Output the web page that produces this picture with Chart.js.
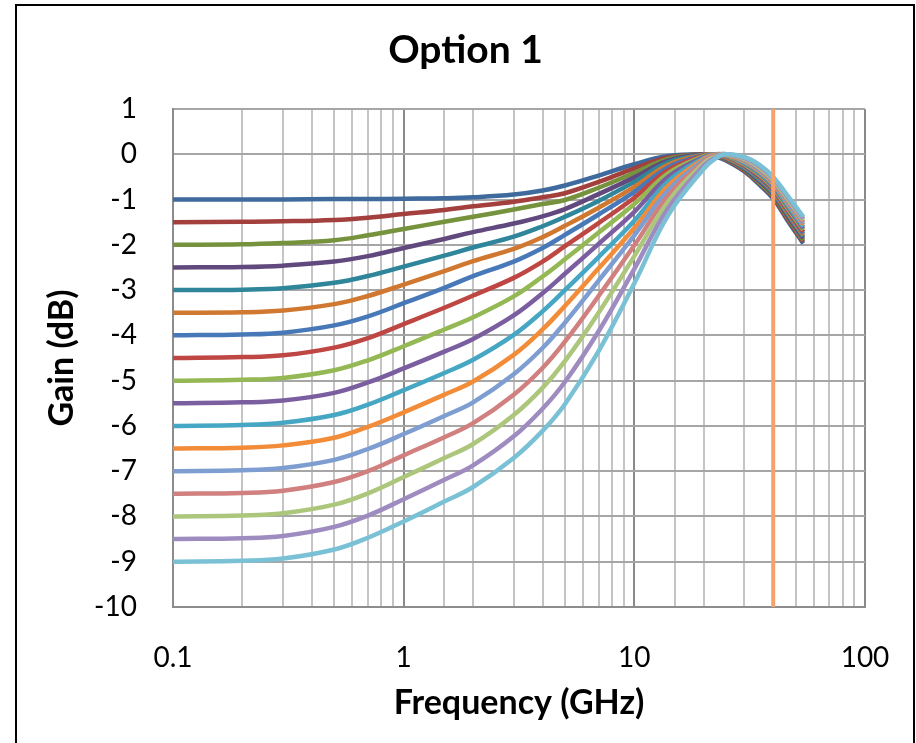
<!DOCTYPE html>
<html>
<head>
<meta charset="utf-8">
<title>Option 1</title>
<script src="https://cdn.jsdelivr.net/npm/chart.js@4.4.1/dist/chart.umd.min.js"></script>
<style>
  html, body { margin: 0; padding: 0; background: #fff; }
  #frame { position: absolute; left: 15px; top: 4px; width: 896px; height: 760px; border: 2px solid #000; }
  #chart { position: absolute; left: 0; top: 0; }
</style>
</head>
<body>
<div id="frame"></div>
<canvas id="chart" width="916" height="743"></canvas>
<script>
// sample frequencies (GHz)
const freqGHz = [0.1, 0.2, 0.3, 0.5, 0.7, 1, 1.5, 2, 3, 4, 5, 7, 10, 14, 20, 22.5, 25, 30, 35, 40, 46, 54];

// gain (dB) of each curve at the frequencies above, named by DC gain
const gainM1   = [-1, -1, -1, -0.99, -0.99, -0.98, -0.97, -0.95, -0.89, -0.8, -0.69, -0.47, -0.22, -0.04, 0, -0.05, -0.14, -0.38, -0.68, -0.98, -1.45, -1.97];
const gainM1p5 = [-1.5, -1.49, -1.48, -1.45, -1.4, -1.32, -1.23, -1.15, -1.05, -0.95, -0.86, -0.61, -0.31, -0.07, 0, -0.04, -0.12, -0.36, -0.65, -0.95, -1.42, -1.93];
const gainM2   = [-2, -1.99, -1.96, -1.9, -1.79, -1.65, -1.49, -1.38, -1.22, -1.1, -1.01, -0.74, -0.41, -0.1, 0, -0.03, -0.11, -0.34, -0.63, -0.92, -1.38, -1.9];
const gainM2p5 = [-2.5, -2.49, -2.46, -2.37, -2.25, -2.07, -1.87, -1.72, -1.53, -1.37, -1.21, -0.88, -0.51, -0.14, 0, -0.02, -0.1, -0.32, -0.6, -0.89, -1.35, -1.86];
const gainM3   = [-3, -2.99, -2.96, -2.84, -2.69, -2.48, -2.24, -2.06, -1.82, -1.59, -1.38, -1.03, -0.61, -0.18, -0.01, -0.01, -0.08, -0.3, -0.57, -0.86, -1.31, -1.82];
const gainM3p5 = [-3.5, -3.49, -3.45, -3.31, -3.13, -2.88, -2.58, -2.36, -2.09, -1.83, -1.58, -1.18, -0.72, -0.23, -0.01, -0.01, -0.07, -0.28, -0.54, -0.83, -1.28, -1.79];
const gainM4   = [-4, -3.98, -3.94, -3.78, -3.58, -3.29, -2.95, -2.69, -2.37, -2.07, -1.78, -1.33, -0.83, -0.29, -0.02, 0, -0.05, -0.26, -0.52, -0.8, -1.24, -1.75];
const gainM4p5 = [-4.5, -4.48, -4.44, -4.27, -4.06, -3.75, -3.39, -3.12, -2.73, -2.37, -2.03, -1.52, -0.96, -0.35, -0.03, 0, -0.04, -0.24, -0.49, -0.77, -1.21, -1.71];
const gainM5   = [-5, -4.98, -4.94, -4.77, -4.55, -4.24, -3.87, -3.6, -3.14, -2.7, -2.32, -1.73, -1.1, -0.42, -0.04, 0, -0.03, -0.22, -0.46, -0.74, -1.18, -1.67];
const gainM5p5 = [-5.5, -5.48, -5.44, -5.27, -5.04, -4.73, -4.36, -4.08, -3.56, -3.07, -2.64, -1.98, -1.27, -0.5, -0.06, 0, -0.02, -0.2, -0.43, -0.71, -1.14, -1.64];
const gainM6   = [-6, -5.98, -5.93, -5.76, -5.53, -5.21, -4.83, -4.54, -3.99, -3.47, -3.0, -2.27, -1.47, -0.6, -0.08, 0, -0.02, -0.18, -0.41, -0.68, -1.11, -1.6];
const gainM6p5 = [-6.5, -6.48, -6.43, -6.26, -6.02, -5.7, -5.31, -5.02, -4.43, -3.87, -3.35, -2.52, -1.63, -0.7, -0.1, -0.01, -0.01, -0.16, -0.38, -0.65, -1.07, -1.56];
const gainM7   = [-7, -6.98, -6.93, -6.75, -6.51, -6.18, -5.78, -5.48, -4.86, -4.28, -3.72, -2.79, -1.79, -0.8, -0.13, -0.02, 0, -0.14, -0.35, -0.62, -1.04, -1.53];
const gainM7p5 = [-7.5, -7.48, -7.43, -7.24, -7.0, -6.65, -6.25, -5.94, -5.31, -4.72, -4.14, -3.13, -2.01, -0.92, -0.16, -0.03, 0, -0.12, -0.32, -0.59, -1.0, -1.49];
const gainM8   = [-8, -7.98, -7.93, -7.74, -7.49, -7.13, -6.71, -6.4, -5.76, -5.16, -4.57, -3.5, -2.25, -1.05, -0.2, -0.05, 0, -0.1, -0.3, -0.56, -0.97, -1.45];
const gainM8p5 = [-8.5, -8.48, -8.43, -8.23, -7.98, -7.62, -7.19, -6.87, -6.23, -5.62, -5.03, -3.91, -2.53, -1.19, -0.25, -0.07, 0, -0.08, -0.27, -0.53, -0.93, -1.42];
const gainM9   = [-9, -8.98, -8.93, -8.73, -8.47, -8.11, -7.67, -7.35, -6.71, -6.11, -5.52, -4.35, -2.85, -1.35, -0.32, -0.09, 0, -0.06, -0.24, -0.5, -0.9, -1.38];

const curves = [gainM1, gainM1p5, gainM2, gainM2p5, gainM3, gainM3p5, gainM4, gainM4p5, gainM5,
                gainM5p5, gainM6, gainM6p5, gainM7, gainM7p5, gainM8, gainM8p5, gainM9];

const curveColors = ['#3e6a9e', '#a33f3c', '#76923c', '#61497e', '#2f8599', '#d0782f', '#4778b8', '#be4643', '#94b853',
                     '#7b5ea0', '#45a7c3', '#f28c38', '#7e9dd0', '#d0807e', '#acc77b', '#9e8cc0', '#7bc1d6'];

// vertical marker and axis ranges
const markerFreqGHz = 40;
const xRange = [0.1, 100];
const yRange = [-10, 1];
const chartTitle = 'Option 1';

Chart.defaults.font.family = 'Lato';
Chart.defaults.color = '#000';

function isDecade(v) {
  const l = Math.log10(v);
  return Math.abs(l - Math.round(l)) < 1e-6;
}

const datasets = curves.map((c, i) => ({
  label: String(c[0]),
  data: freqGHz.map((f, k) => ({ x: f, y: c[k] })),
  borderColor: curveColors[i],
  borderWidth: 4.5,
  pointRadius: 0,
  fill: false,
  tension: 0.4,
  order: curves.length - i
}));

datasets.push({
  label: 'marker',
  data: [{ x: markerFreqGHz, y: yRange[0] }, { x: markerFreqGHz, y: yRange[1] }],
  borderColor: '#f7a26c',
  borderWidth: 4,
  pointRadius: 0,
  order: 0
});

// title centred on the outer frame rather than the plot
const frameTitle = {
  id: 'frameTitle',
  afterDraw(chart) {
    const ctx = chart.ctx;
    ctx.save();
    ctx.font = 'bold 39px Lato';
    ctx.fillStyle = '#000';
    ctx.textAlign = 'center';
    ctx.textBaseline = 'alphabetic';
    ctx.fillText(chartTitle, 465.5, 63);
    ctx.restore();
  }
};

new Chart(document.getElementById('chart'), {
  type: 'line',
  data: { datasets },
  plugins: [frameTitle],
  options: {
    responsive: false,
    animation: false,
    devicePixelRatio: 1,
    layout: { padding: { left: 0, right: 51, top: 109, bottom: 0 } },
    plugins: {
      legend: { display: false },
      tooltip: { enabled: false },
      title: { display: false }
    },
    scales: {
      x: {
        type: 'logarithmic',
        min: xRange[0],
        max: xRange[1],
        afterFit: s => { s.height = 136; },
        grid: {
          drawTicks: true,
          tickLength: 34,
          tickColor: 'rgba(0,0,0,0)',
          color: c => (c.tick && isDecade(c.tick.value)) ? '#898989' : '#c4c4c4',
          lineWidth: 2
        },
        border: { color: '#8c8c8c', width: 2 },
        ticks: {
          autoSkip: false,
          maxRotation: 0,
          padding: 0,
          font: { size: 28 },
          callback: v => isDecade(v) ? String(Number(v.toPrecision(3))) : ''
        },
        title: {
          display: true,
          text: 'Frequency (GHz)',
          font: { size: 34, weight: 'bold', lineHeight: 1.2 },
          padding: { top: 0, bottom: 19.6 }
        }
      },
      y: {
        min: yRange[0],
        max: yRange[1],
        afterFit: s => { s.width = 173; },
        grid: { drawTicks: false, color: '#a6a6a6', lineWidth: 2 },
        border: { color: '#8c8c8c', width: 2 },
        ticks: {
          stepSize: 1,
          padding: 36,
          font: { size: 28 },
          callback: v => String(v)
        },
        title: {
          display: true,
          text: 'Gain (dB)',
          font: { size: 34, weight: 'bold', lineHeight: 1.2 },
          padding: { top: 41.6, bottom: 0 }
        }
      }
    }
  }
});
</script>
</body>
</html>
